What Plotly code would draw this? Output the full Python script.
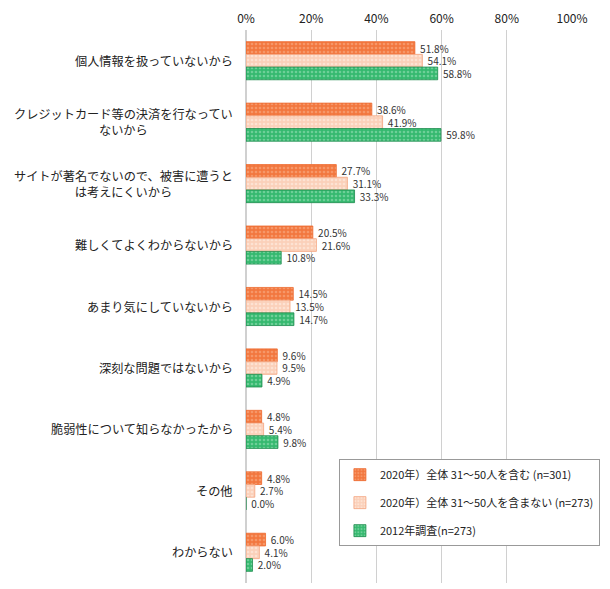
import plotly.graph_objects as go

categories = [
    "個人情報を扱っていないから",
    "クレジットカード等の決済を行なってい<br>ないから",
    "サイトが著名でないので、被害に遭うと<br>は考えにくいから",
    "難しくてよくわからないから",
    "あまり気にしていないから",
    "深刻な問題ではないから",
    "脆弱性について知らなかったから",
    "その他",
    "わからない",
]
series_names = [
    "2020年）全体 31～50人を含む (n=301)",
    "2020年）全体 31～50人を含まない (n=273)",
    "2012年調査(n=273)",
]
s2020_all = [51.8, 38.6, 27.7, 20.5, 14.5, 9.6, 4.8, 4.8, 6.0]
s2020_excl = [54.1, 41.9, 31.1, 21.6, 13.5, 9.5, 5.4, 2.7, 4.1]
s2012 = [58.8, 59.8, 33.3, 10.8, 14.7, 4.9, 9.8, 0.0, 2.0]
x_ticks = [0, 20, 40, 60, 80, 100]

FONT = "Noto Sans CJK JP"
styles = [
    dict(bg="#F2773F", fg="#FAB894", line="#EE6A2E"),
    dict(bg="#FBD0BA", fg="#FFF3EC", line="#F4A37E"),
    dict(bg="#35B96F", fg="#A8E6C2", line="#1E8C4E"),
]

fig = go.Figure()
for name, vals, st in zip(series_names, [s2020_all, s2020_excl, s2012], styles):
    fig.add_trace(go.Bar(
        y=categories, x=vals, orientation="h", name=name,
        legendgroup=name,
        marker=dict(color=st["bg"], line=dict(color=st["line"], width=0.8),
                    pattern=dict(shape=".", fgcolor=st["fg"], bgcolor=st["bg"],
                                 size=4, solidity=0.35, fillmode="overlay")),
        text=[f" {v:.1f}%" for v in vals], textposition="outside",
        constraintext="none",
        textfont=dict(family=FONT, size=10, color="#333333"),
        cliponaxis=False,
    ))

for c in categories:
    fig.add_annotation(x=-0.035, xref="paper", y=c, yref="y", text=c,
                       showarrow=False, xanchor="right", align="center",
                       font=dict(family=FONT, size=12.2, color="#222222"))

fig.update_layout(
    width=610, height=589,
    margin=dict(l=238, r=46, t=22, b=14, autoexpand=False),
    paper_bgcolor="white", plot_bgcolor="white",
    barmode="group", bargap=0.38, bargroupgap=0,
    font=dict(family=FONT, color="#222222"),
    legend=dict(x=0.285, y=0.224, xanchor="left", yanchor="top",
                bgcolor="white", bordercolor="#999999", borderwidth=1,
                font=dict(family=FONT, size=11, color="#222222"),
                traceorder="grouped", tracegroupgap=9, itemwidth=30),
    xaxis=dict(side="top", range=[0, 100], tickvals=x_ticks,
               ticktext=[f"{t}%" for t in x_ticks],
               showgrid=True, gridcolor="#D0D0D0", gridwidth=1,
               zeroline=True, zerolinecolor="#D0D0D0",
               tickfont=dict(family=FONT, size=12, color="#222222"),
               showline=False, ticks="", ticklabelstandoff=4),
    yaxis=dict(autorange="reversed", showticklabels=False, showgrid=False,
               showline=False, ticks=""),
)

fig.write_html("out.html")
